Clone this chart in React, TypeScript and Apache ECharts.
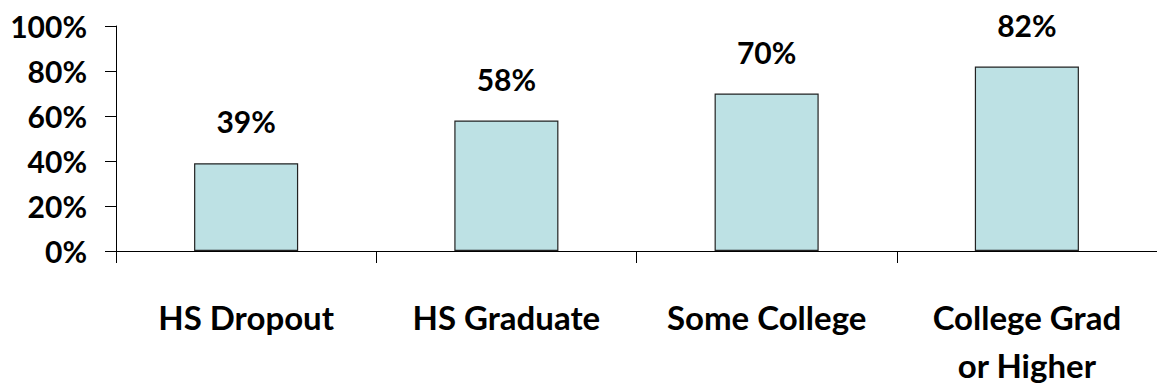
import React, { useEffect, useRef } from "react";
import * as echarts from "echarts";

const categories = ["HS Dropout", "HS Graduate", "Some College", "College Grad\nor Higher"];
const values = [39, 58, 70, 82];
const yTicks = { min: 0, max: 100, interval: 20 };

const FONT = "Lato";

export default function App() {
  const ref = useRef<HTMLDivElement>(null);
  useEffect(() => {
    if (!ref.current) return;
    const chart = echarts.init(ref.current, null, { renderer: "svg" });
    chart.setOption({
      animation: false,
      backgroundColor: "#ffffff",
      grid: { left: 116, top: 26, height: 228, width: 1052, containLabel: false },
      xAxis: {
        type: "category",
        data: categories,
        axisLine: { lineStyle: { color: "#000", width: 1 } },
        axisTick: { show: true, length: 12, lineStyle: { color: "#000" } },
        axisLabel: {
          color: "#000",
          fontFamily: FONT,
          fontWeight: "bold",
          fontSize: 33,
          lineHeight: 48,
          margin: 42,
          interval: 0,
        },
      },
      yAxis: {
        type: "value",
        min: yTicks.min,
        max: yTicks.max,
        interval: yTicks.interval,
        splitLine: { show: false },
        axisLine: { show: true, lineStyle: { color: "#000", width: 1 } },
        axisTick: { show: true, length: 11, lineStyle: { color: "#000" } },
        axisLabel: {
          color: "#000",
          fontFamily: FONT,
          fontWeight: "bold",
          fontSize: 30,
          margin: 29,
          formatter: "{value}%",
        },
      },
      series: [
        {
          type: "bar",
          data: values,
          barWidth: "40%",
          itemStyle: { color: "#BDE1E4", borderColor: "#222", borderWidth: 1.2 },
          label: {
            show: true,
            position: "top",
            distance: 27,
            formatter: "{c}%",
            color: "#000",
            fontFamily: FONT,
            fontWeight: "bold",
            fontSize: 30,
          },
        },
      ],
    });
    return () => chart.dispose();
  }, []);
  return (
    <div
      ref={ref}
      style={{ position: "fixed", left: 0, top: 0, width: 1157, height: 389 }}
    />
  );
}
